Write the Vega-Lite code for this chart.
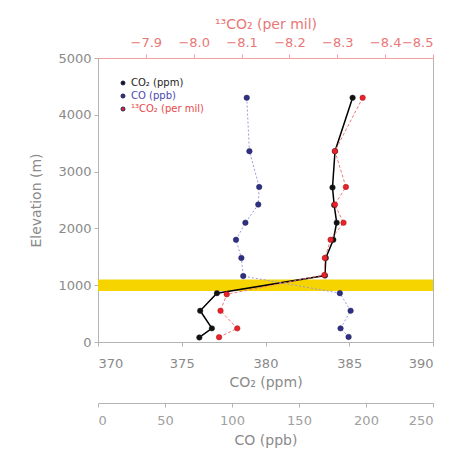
{
"$schema":"https://vega.github.io/schema/vega-lite/v6.json",
"width":335,"height":284,
"autosize":{"type":"none"},
"padding":{"left":98,"top":58,"right":37,"bottom":120},
"background":"white",
"datasets":{
 "profile":[
  {"elev":4300,"series":"CO₂ (ppm)","value":385.2},
  {"elev":3360,"series":"CO₂ (ppm)","value":384.15},
  {"elev":2720,"series":"CO₂ (ppm)","value":384.0},
  {"elev":2410,"series":"CO₂ (ppm)","value":384.1},
  {"elev":2100,"series":"CO₂ (ppm)","value":384.25},
  {"elev":1800,"series":"CO₂ (ppm)","value":384.05},
  {"elev":1480,"series":"CO₂ (ppm)","value":383.6},
  {"elev":1170,"series":"CO₂ (ppm)","value":383.55},
  {"elev":860,"series":"CO₂ (ppm)","value":377.1},
  {"elev":550,"series":"CO₂ (ppm)","value":376.1},
  {"elev":240,"series":"CO₂ (ppm)","value":376.8},
  {"elev":80,"series":"CO₂ (ppm)","value":376.05},
  {"elev":4300,"series":"CO (ppb)","value":111},
  {"elev":3360,"series":"CO (ppb)","value":113},
  {"elev":2730,"series":"CO (ppb)","value":120.3},
  {"elev":2420,"series":"CO (ppb)","value":119.6},
  {"elev":2100,"series":"CO (ppb)","value":110},
  {"elev":1800,"series":"CO (ppb)","value":103},
  {"elev":1480,"series":"CO (ppb)","value":107},
  {"elev":1160,"series":"CO (ppb)","value":108.4},
  {"elev":860,"series":"CO (ppb)","value":180.5},
  {"elev":550,"series":"CO (ppb)","value":188.5},
  {"elev":240,"series":"CO (ppb)","value":181},
  {"elev":90,"series":"CO (ppb)","value":187},
  {"elev":4300,"series":"¹³CO₂ (per mil)","value":-8.353},
  {"elev":3360,"series":"¹³CO₂ (per mil)","value":-8.295},
  {"elev":2730,"series":"¹³CO₂ (per mil)","value":-8.318},
  {"elev":2420,"series":"¹³CO₂ (per mil)","value":-8.295},
  {"elev":2100,"series":"¹³CO₂ (per mil)","value":-8.313},
  {"elev":1800,"series":"¹³CO₂ (per mil)","value":-8.286},
  {"elev":1480,"series":"¹³CO₂ (per mil)","value":-8.274},
  {"elev":1180,"series":"¹³CO₂ (per mil)","value":-8.273},
  {"elev":840,"series":"¹³CO₂ (per mil)","value":-8.069},
  {"elev":550,"series":"¹³CO₂ (per mil)","value":-8.056},
  {"elev":240,"series":"¹³CO₂ (per mil)","value":-8.091},
  {"elev":85,"series":"¹³CO₂ (per mil)","value":-8.053}
 ],
 "band":[{"lo":900,"hi":1100}]
},
"config":{
 "font":"DejaVu Sans",
 "view":{"stroke":"#b4b4b4","strokeWidth":1},
 "axis":{"grid":false,"labelColor":"#8a8a8a","titleColor":"#8a8a8a","domainColor":"#b4b4b4","tickColor":"#b4b4b4","labelFontSize":13,"titleFontSize":14,"titleFontWeight":"normal","tickSize":4,"labelFont":"DejaVu Sans","titleFont":"DejaVu Sans"}
},
"resolve":{"scale":{"x":"independent"},"axis":{"x":"independent"}},
"layer":[
 {"data":{"name":"band"},
  "mark":{"type":"rect","color":"#f6d400","opacity":1},
  "encoding":{
   "y":{"field":"lo","type":"quantitative","scale":{"domain":[0,5000],"nice":false},"axis":{"title":"Elevation (m)","values":[0,1000,2000,3000,4000,5000],"format":"d","labelPadding":3,"titlePadding":14}},
   "y2":{"field":"hi"}
  }},
 {"data":{"name":"profile"},
  "transform":[{"filter":"datum.series == 'CO₂ (ppm)'"}],
  "encoding":{
   "x":{"field":"value","type":"quantitative","scale":{"domain":[370,390],"nice":false,"zero":false},"axis":{"orient":"bottom","title":"CO₂ (ppm)","values":[370,375,380,385,390],"format":"d","labelPadding":11,"titlePadding":5}},
   "y":{"field":"elev","type":"quantitative","scale":{"domain":[0,5000],"nice":false},"axis":{"title":"Elevation (m)","values":[0,1000,2000,3000,4000,5000],"format":"d","labelPadding":3,"titlePadding":14}},
   "order":{"field":"elev","type":"quantitative"}
  },
  "layer":[
   {"mark":{"type":"line","color":"#000000","strokeWidth":1.5}},
   {"mark":{"type":"circle","size":30,"opacity":1,"stroke":"#222","strokeWidth":0.5},
    "encoding":{"color":{"field":"series","type":"nominal","scale":{"domain":["CO₂ (ppm)","CO (ppb)","¹³CO₂ (per mil)"],"range":["#111111","#2f2f86","#e8232b"]},
      "legend":{"title":null,"orient":"top-left","offset":20,"padding":0,"labelFontSize":10,"labelColor":{"expr":"datum.label == 'CO (ppb)' ? '#4a4ab0' : datum.label == 'CO₂ (ppm)' ? '#222222' : '#e84a4a'"},"symbolSize":16,"symbolType":"circle","symbolFillColor":"white","symbolStrokeColor":"#a0a0a0","symbolStrokeWidth":1,"symbolOpacity":0.5,"rowPadding":3,"labelOffset":3}}}}
  ]},
 {"data":{"name":"profile"},
  "transform":[{"filter":"datum.series == 'CO (ppb)'"}],
  "encoding":{
   "x":{"field":"value","type":"quantitative","scale":{"domain":[0,250],"nice":false},"axis":{"orient":"bottom","offset":61,"title":"CO (ppb)","values":[0,50,100,150,200,250],"format":"d","labelPadding":7,"titlePadding":6,"labelColor":"#a0a0a0"}},
   "y":{"field":"elev","type":"quantitative","scale":{"domain":[0,5000],"nice":false},"axis":{"title":"Elevation (m)","values":[0,1000,2000,3000,4000,5000],"format":"d","labelPadding":3,"titlePadding":14}},
   "order":{"field":"elev","type":"quantitative"}
  },
  "layer":[
   {"mark":{"type":"line","color":"#9a9ae6","strokeWidth":1,"strokeDash":[2,2]}},
   {"mark":{"type":"circle","size":30,"opacity":1,"stroke":"#222255","strokeWidth":0.5},
    "encoding":{"color":{"field":"series","type":"nominal","scale":{"domain":["CO₂ (ppm)","CO (ppb)","¹³CO₂ (per mil)"],"range":["#111111","#2f2f86","#e8232b"]}}}}
  ]},
 {"data":{"name":"profile"},
  "transform":[{"filter":"datum.series == '¹³CO₂ (per mil)'"}],
  "encoding":{
   "x":{"field":"value","type":"quantitative","scale":{"domain":[-8.5,-7.8],"reverse":true,"nice":false,"zero":false},"axis":{"orient":"top","title":"¹³CO₂ (per mil)","values":[-7.9,-8.0,-8.1,-8.2,-8.3,-8.4,-8.5],"format":".1f","labelColor":"#e87878","titleColor":"#e87878","domainColor":"#f2a0a0","tickColor":"#f2a0a0","labelPadding":5,"titlePadding":5}},
   "y":{"field":"elev","type":"quantitative","scale":{"domain":[0,5000],"nice":false},"axis":{"title":"Elevation (m)","values":[0,1000,2000,3000,4000,5000],"format":"d","labelPadding":3,"titlePadding":14}},
   "order":{"field":"elev","type":"quantitative"}
  },
  "layer":[
   {"mark":{"type":"line","color":"#f07a7a","strokeWidth":1,"strokeDash":[3,2]}},
   {"mark":{"type":"circle","size":30,"opacity":1,"stroke":"#a01010","strokeWidth":0.5},
    "encoding":{"color":{"field":"series","type":"nominal","scale":{"domain":["CO₂ (ppm)","CO (ppb)","¹³CO₂ (per mil)"],"range":["#111111","#2f2f86","#e8232b"]}}}}
  ]}
]
}
